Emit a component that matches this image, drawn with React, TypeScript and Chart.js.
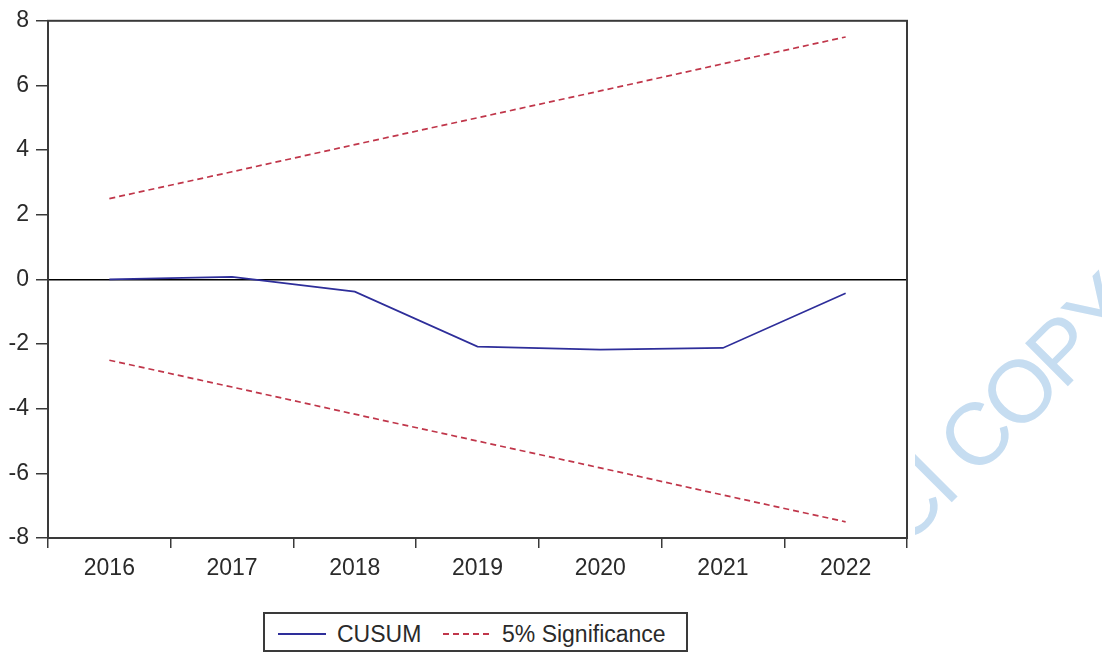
import React, { useEffect, useRef } from "react";
import { Chart, registerables } from "chart.js";

Chart.register(...registerables);

// ---- data ----
const years = ["2016", "2017", "2018", "2019", "2020", "2021", "2022"];
const cusum = [0, 0.08, -0.38, -2.08, -2.17, -2.12, -0.43];
const upperBound = [2.5, 3.33, 4.17, 5.0, 5.83, 6.67, 7.5];
const lowerBound = [-2.5, -3.33, -4.17, -5.0, -5.83, -6.67, -7.5];
const yTicks = [-8, -6, -4, -2, 0, 2, 4, 6, 8];
const legendLabels = ["CUSUM", "5% Significance"];
const watermarkText = "CI COPY";

const BLUE = "#2e2e9a";
const RED = "#c0364a";
const AXIS = "#3a3a3a";
const TEXT = "#2a2a2a";
const FONT_FAMILY = "'Liberation Sans', Arial, sans-serif";

const framePlugin = {
  id: "frame",
  afterDraw(chart: any) {
    const { ctx, chartArea: a } = chart;
    ctx.save();
    ctx.strokeStyle = AXIS;
    ctx.lineWidth = 2;
    ctx.strokeRect(a.left, a.top, a.right - a.left, a.bottom - a.top);
    ctx.restore();
  },
};

export default function App() {
  const canvasRef = useRef<HTMLCanvasElement>(null);

  useEffect(() => {
    const el = canvasRef.current;
    if (!el) return;
    const font = { family: FONT_FAMILY, size: 23 };
    const chart = new Chart(el, {
      type: "line",
      data: {
        labels: years,
        datasets: [
          {
            label: legendLabels[0],
            data: cusum,
            borderColor: BLUE,
            borderWidth: 1.7,
            pointRadius: 0,
            tension: 0,
            fill: false,
          },
          {
            label: legendLabels[1],
            data: upperBound,
            borderColor: RED,
            borderWidth: 1.7,
            borderDash: [6, 4],
            pointRadius: 0,
            tension: 0,
            fill: false,
          },
          {
            label: legendLabels[1] + " (lower)",
            data: lowerBound,
            borderColor: RED,
            borderWidth: 1.7,
            borderDash: [6, 4],
            pointRadius: 0,
            tension: 0,
            fill: false,
          },
        ],
      },
      options: {
        animation: false,
        responsive: false,
        maintainAspectRatio: false,
        layout: { padding: { top: 20, right: 8, bottom: 12, left: 0 } },
        plugins: {
          legend: { display: false },
          tooltip: { enabled: false },
        },
        scales: {
          x: {
            type: "category",
            offset: true,
            grid: {
              offset: true,
              drawOnChartArea: false,
              drawTicks: true,
              tickLength: 10,
              color: AXIS,
              tickColor: AXIS,
              lineWidth: 1.5,
            },
            border: { display: false },
            ticks: {
              font,
              color: TEXT,
              padding: 7,
              autoSkip: false,
              maxRotation: 0,
            },
            afterFit: (s: any) => {
              s.height = 50;
            },
          },
          y: {
            min: -8,
            max: 8,
            afterBuildTicks: (s: any) => {
              s.ticks = yTicks.map((v) => ({ value: v }));
            },
            grid: {
              color: (c: any) =>
                c.tick && c.tick.value === 0 ? "#000000" : "rgba(0,0,0,0)",
              tickColor: AXIS,
              tickLength: 12,
              lineWidth: 1.5,
            },
            border: { display: false },
            ticks: { font, color: TEXT, padding: 7 },
            afterFit: (s: any) => {
              s.width = 48;
            },
          },
        },
      },
      plugins: [framePlugin],
    } as any);
    return () => chart.destroy();
  }, []);

  const legendText: React.CSSProperties = {
    position: "absolute",
    top: 0,
    height: 40,
    lineHeight: "40px",
    fontFamily: FONT_FAMILY,
    fontSize: 23,
    color: TEXT,
    whiteSpace: "nowrap",
  };

  return (
    <div
      style={{
        position: "fixed",
        left: 0,
        top: 0,
        width: 1102,
        height: 653,
        background: "#ffffff",
        overflow: "hidden",
      }}
    >
      <svg
        width={1102}
        height={653}
        style={{ position: "absolute", left: 0, top: 0, zIndex: 0 }}
      >
        <text
          x={904}
          y={550}
          transform="rotate(-45 904 550)"
          fontFamily={FONT_FAMILY}
          fontSize={88}
          fill="#c6ddf1"
          style={{ letterSpacing: "-4px" }}
        >
          {watermarkText}
        </text>
      </svg>
      <div
        style={{
          position: "absolute",
          left: 0,
          top: 0,
          width: 915,
          height: 653,
          background: "#ffffff",
          zIndex: 1,
        }}
      >
        <canvas ref={canvasRef} width={915} height={600} style={{ display: "block" }} />
        <div
          style={{
            position: "absolute",
            left: 263,
            top: 612,
            width: 425,
            height: 40,
            boxSizing: "border-box",
            border: `2px solid ${AXIS}`,
            background: "#ffffff",
          }}
        >
          <svg
            width={425}
            height={40}
            style={{ position: "absolute", left: -2, top: -2 }}
          >
            <line x1={15} y1={22} x2={63} y2={22} stroke={BLUE} strokeWidth={2} />
            <line
              x1={180}
              y1={22}
              x2={229}
              y2={22}
              stroke={RED}
              strokeWidth={2}
              strokeDasharray="6 4"
            />
          </svg>
          <span style={{ ...legendText, left: 72 }}>{legendLabels[0]}</span>
          <span style={{ ...legendText, left: 237 }}>{legendLabels[1]}</span>
        </div>
      </div>
    </div>
  );
}
